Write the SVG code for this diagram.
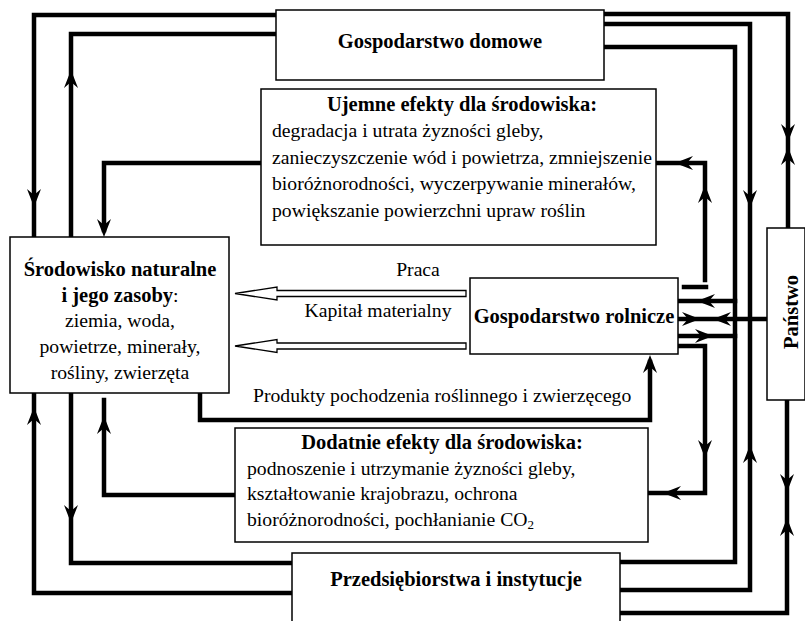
<svg xmlns="http://www.w3.org/2000/svg" xmlns:xlink="http://www.w3.org/1999/xlink" width="805" height="621" viewBox="0 0 805 621">
<style>
.box{fill:#fff;stroke:#000;stroke-width:1.5}
.c{fill:none;stroke:#000;stroke-width:4.5;stroke-linejoin:miter;stroke-linecap:square}
.t{font-family:"Liberation Serif","Times New Roman","DejaVu Serif",serif;font-size:19.7px;fill:#000}
.b{font-weight:bold;font-size:20.5px}
.m{text-anchor:middle}
.ha{fill:#fff;stroke:#000;stroke-width:1.3}
</style>
<defs>
<path id="ah" d="M0,0 L-18,-7 L-12,0 L-18,7 Z" fill="#000"/>
</defs>
<rect width="805" height="621" fill="#fff"/>

<g id="connectors">
<polyline class="c" points="276,15 34,15 34,237"/>
<polyline class="c" points="276,34 71,34 71,237"/>
<polyline class="c" points="261,163 104,163 104,230"/>
<polyline class="c" points="604,14 788,14 788,228"/>
<polyline class="c" points="604,24 750,24 750,590 620,590"/>
<polyline class="c" points="604,47 735,47 735,562 620,562"/>
<polyline class="c" points="656,163 705,163 705,280"/>
<line class="c" x1="684" y1="287" x2="706" y2="287"/>
<line class="c" x1="678" y1="301" x2="735" y2="301"/>
<line class="c" x1="678" y1="319" x2="767" y2="319"/>
<line class="c" x1="678" y1="336" x2="735" y2="336"/>
<polyline class="c" points="678,346 705,346 705,493 648,493"/>
<polyline class="c" points="787,400 787,613 620,613"/>
<polyline class="c" points="34,393 34,593 292,593"/>
<polyline class="c" points="71,393 71,563 292,563"/>
<polyline class="c" points="104,400 104,495 235,495"/>
<polyline class="c" points="200,393 200,420 650,420 650,362"/>
<polygon class="ha" points="466,290.5 277,290.5 277,287 235,293.5 277,300 277,296.5 466,296.5"/>
<polygon class="ha" points="466,343 277,343 277,339.5 235,346 277,352.5 277,349 466,349"/>
<use xlink:href="#ah" transform="translate(34,207) rotate(90)"/>
<use xlink:href="#ah" transform="translate(71,70) rotate(-90)"/>
<use xlink:href="#ah" transform="translate(104,237) rotate(90)"/>
<use xlink:href="#ah" transform="translate(675,163) rotate(180)"/>
<use xlink:href="#ah" transform="translate(705,185) rotate(-90)"/>
<use xlink:href="#ah" transform="translate(750,208) rotate(90)"/>
<use xlink:href="#ah" transform="translate(788,142) rotate(90)"/>
<use xlink:href="#ah" transform="translate(788,147) rotate(-90)"/>
<use xlink:href="#ah" transform="translate(697,301) rotate(180)"/>
<use xlink:href="#ah" transform="translate(700,319)"/>
<use xlink:href="#ah" transform="translate(713,319) rotate(180)"/>
<use xlink:href="#ah" transform="translate(713,336)"/>
<use xlink:href="#ah" transform="translate(705,458) rotate(90)"/>
<use xlink:href="#ah" transform="translate(663,493) rotate(180)"/>
<use xlink:href="#ah" transform="translate(750,445) rotate(-90)"/>
<use xlink:href="#ah" transform="translate(787,492) rotate(90)"/>
<use xlink:href="#ah" transform="translate(787,518) rotate(-90)"/>
<use xlink:href="#ah" transform="translate(650,355) rotate(-90)"/>
<use xlink:href="#ah" transform="translate(71,523) rotate(90)"/>
<use xlink:href="#ah" transform="translate(34,407) rotate(-90)"/>
<use xlink:href="#ah" transform="translate(104,416) rotate(-90)"/>
</g>

<g id="domowe">
<rect class="box" x="276" y="10" width="328" height="70"/>
<text class="t b m" x="440" y="48">Gospodarstwo domowe</text>
</g>

<g id="ujemne">
<rect class="box" x="261" y="89" width="395" height="156"/>
<text class="t b m" x="462" y="111">Ujemne efekty dla środowiska:</text>
<text class="t" x="272" y="137">degradacja i utrata żyzności gleby,</text>
<text class="t" x="272" y="164">zanieczyszczenie wód i powietrza, zmniejszenie</text>
<text class="t" x="272" y="190">bioróżnorodności, wyczerpywanie minerałów,</text>
<text class="t" x="272" y="217">powiększanie powierzchni upraw roślin</text>
</g>

<g id="srodowisko">
<rect class="box" x="10" y="237" width="219" height="156"/>
<text class="t b m" x="120" y="276">Środowisko naturalne</text>
<text class="t m" x="120" y="302"><tspan font-weight="bold" font-size="20.5">i jego zasoby</tspan>:</text>
<text class="t m" x="120" y="327">ziemia, woda,</text>
<text class="t m" x="120" y="353">powietrze, minerały,</text>
<text class="t m" x="120" y="379">rośliny, zwierzęta</text>
</g>

<g id="labels">
<text class="t m" x="418" y="276">Praca</text>
<text class="t m" x="378" y="317">Kapitał materialny</text>
<text class="t" x="253" y="402">Produkty pochodzenia roślinnego i zwierzęcego</text>
</g>

<g id="rolnicze">
<rect class="box" x="470" y="278" width="208" height="76"/>
<text class="t b m" x="574" y="323">Gospodarstwo rolnicze</text>
</g>

<g id="panstwo">
<rect class="box" x="767" y="228" width="38" height="172"/>
<text class="t b m" transform="translate(798,312) rotate(-90)">Państwo</text>
</g>

<g id="dodatnie">
<rect class="box" x="235" y="428" width="413" height="114"/>
<text class="t b m" x="442" y="449">Dodatnie efekty dla środowiska:</text>
<text class="t" x="247" y="475">podnoszenie i utrzymanie żyzności gleby,</text>
<text class="t" x="247" y="500">kształtowanie krajobrazu, ochrona</text>
<text class="t" x="247" y="526">bioróżnorodności, pochłanianie CO<tspan font-size="13" dy="3">2</tspan></text>
</g>

<g id="przedsiebiorstwa">
<rect class="box" x="292" y="553" width="328" height="75"/>
<text class="t b m" x="456" y="586">Przedsiębiorstwa i instytucje</text>
</g>
</svg>
